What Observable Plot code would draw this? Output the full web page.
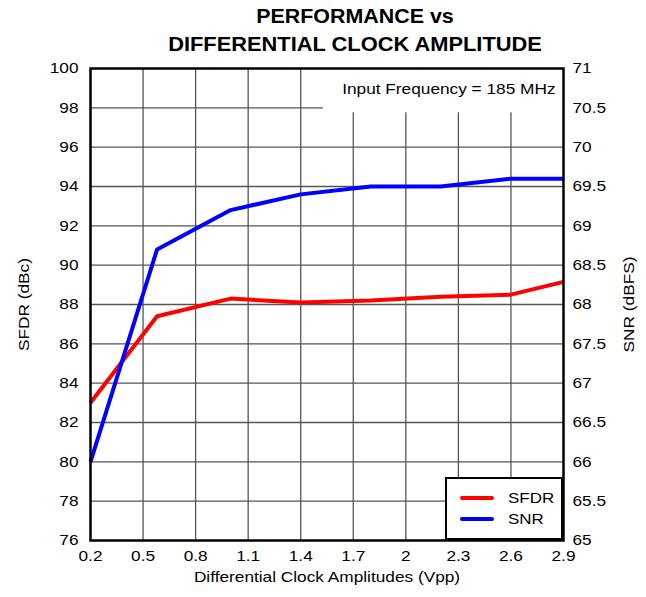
<!DOCTYPE html>
<html><head><meta charset="utf-8">
<script src="https://cdn.jsdelivr.net/npm/d3@7"></script>
<script src="https://cdn.jsdelivr.net/npm/@observablehq/plot@0.6"></script>
<style>
body{margin:0;background:#fff;font-family:"Liberation Sans",Arial,sans-serif;color:#000;}
#wrap{position:relative;width:646px;height:597px;overflow:hidden;}
#title{height:59px;box-sizing:border-box;padding-top:2px;padding-left:64px;text-align:center;font-weight:bold;font-size:21px;line-height:28px;white-space:nowrap;}
#title div{display:block;}
#title .l1{transform:scaleX(1.02);}
#title .l2{transform:scaleX(1.04);}
#legend{position:absolute;left:445px;top:477px;width:118px;height:63px;box-sizing:border-box;border:2px solid #000;background:#fff;padding-top:8px;}
.row{position:relative;height:21px;}
.sw{position:absolute;left:13px;top:9px;width:34px;height:4px;border-radius:2px;}
.lab{position:absolute;left:61px;top:1px;font-size:15px;line-height:19px;transform:scaleX(1.13);transform-origin:left center;}
</style>
</head><body>
<div id="wrap">
  <div id="title"><div class="l1">PERFORMANCE vs</div><div class="l2">DIFFERENTIAL CLOCK AMPLITUDE</div></div>
  <div id="chart"></div>
  <div id="legend"></div>
</div>
<script>
const amplitude = [0.2, 0.58, 1.0, 1.4, 1.8, 2.2, 2.6, 2.9];
const sfdr = [83.0, 87.4, 88.3, 88.1, 88.2, 88.4, 88.5, 89.15];
const snr = [66.0, 68.7, 69.2, 69.4, 69.5, 69.5, 69.6, 69.6];
const seriesNames = ["SFDR", "SNR"];
const seriesColors = ["#ff0000", "#0000ff"];
const xTicks = [0.2, 0.5, 0.8, 1.1, 1.4, 1.7, 2.0, 2.3, 2.6, 2.9];
const xTickLabels = ["0.2", "0.5", "0.8", "1.1", "1.4", "1.7", "2", "2.3", "2.6", "2.9"];
const sfdrTicks = [76, 78, 80, 82, 84, 86, 88, 90, 92, 94, 96, 98, 100];
const snrTicks = [65, 65.5, 66, 66.5, 67, 67.5, 68, 68.5, 69, 69.5, 70, 70.5, 71];
const snrTickLabels = ["65", "65.5", "66", "66.5", "67", "67.5", "68", "68.5", "69", "69.5", "70", "70.5", "71"];
const noteText = ["Input Frequency = 185 MHz"];
const noteBox = [{x1: 1.53, x2: 2.9, y1: 97.75, y2: 100}];

// map SNR (65..71) onto the SFDR scale (76..100)
const toLeft = v => 76 + (v - 65) * 4;

const rows = [];
amplitude.forEach((a, i) => {
  rows.push({x: a, y: sfdr[i], s: "SFDR"});
});
amplitude.forEach((a, i) => {
  rows.push({x: a, y: toLeft(snr[i]), s: "SNR"});
});

const gridStyle = {stroke: "#555", strokeOpacity: 1, strokeWidth: 1.3};

const chart = Plot.plot({
  width: 646,
  height: 538,
  marginTop: 9,
  marginBottom: 57,
  marginLeft: 90,
  marginRight: 83,
  style: {fontFamily: "'Liberation Sans', Arial, sans-serif", fontSize: "15px", color: "#000", background: "#fff"},
  x: {domain: [0.2, 2.9]},
  y: {domain: [76, 100]},
  color: {domain: seriesNames, range: seriesColors},
  marks: [
    Plot.gridX(xTicks.slice(1, -1), gridStyle),
    Plot.gridY(sfdrTicks.slice(1, -1), gridStyle),
    Plot.rect(noteBox, {x1: "x1", x2: "x2", y1: "y1", y2: "y2", fill: "#fff"}),
    Plot.text(noteText, {frameAnchor: "top-right", dx: -8, dy: 20.5, textAnchor: "end", lineAnchor: "middle", fontSize: 15, fill: "#000"}),
    Plot.line(rows, {x: "x", y: "y", z: "s", stroke: "s", strokeWidth: 4, strokeLinejoin: "miter", strokeLinecap: "butt"}),
    Plot.frame({stroke: "#000", strokeWidth: 2.5}),
    Plot.axisX(xTicks, {tickSize: 0, tickPadding: 10, tickFormat: (d, i) => xTickLabels[i], label: "Differential Clock Amplitudes (Vpp)", labelAnchor: "center", labelArrow: "none", labelOffset: 41, fontSize: 15}),
    Plot.axisY(sfdrTicks, {anchor: "left", tickSize: 0, tickPadding: 12, label: "SFDR (dBc)", labelAnchor: "center", labelArrow: "none", labelOffset: 72, fontSize: 15}),
    Plot.axisY(snrTicks.map(toLeft), {anchor: "right", tickSize: 0, tickPadding: 9, tickFormat: (d, i) => snrTickLabels[i], label: "SNR (dBFS)", labelAnchor: "center", labelArrow: "none", labelOffset: 70, fontSize: 15})
  ]
});
document.getElementById("chart").appendChild(chart);

// the reference lettering is slightly wider than Arial: stretch each text horizontally
chart.querySelectorAll("text").forEach(t => {
  const len = t.getComputedTextLength();
  if (len > 0) {
    t.setAttribute("textLength", (len * 1.15).toFixed(2));
    t.setAttribute("lengthAdjust", "spacingAndGlyphs");
  }
});

const legend = document.getElementById("legend");
seriesNames.forEach((name, i) => {
  const row = document.createElement("div");
  row.className = "row";
  const sw = document.createElement("div");
  sw.className = "sw";
  sw.style.background = seriesColors[i];
  const lab = document.createElement("div");
  lab.className = "lab";
  lab.textContent = name;
  row.appendChild(sw);
  row.appendChild(lab);
  legend.appendChild(row);
});
</script>
</body></html>
